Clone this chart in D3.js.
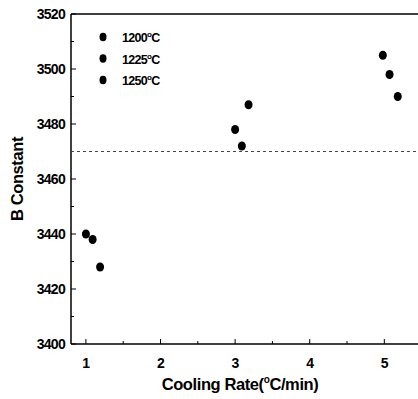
<!DOCTYPE html>
<html>
<head>
<meta charset="utf-8">
<script src="https://cdn.jsdelivr.net/npm/d3@7"></script>
<style>
  body { margin: 0; background: #fff; }
  svg { display: block; font-family: "Liberation Sans", Arial, sans-serif; }
  .tick-label { font-weight: bold; font-size: 14px; letter-spacing: -0.7px; }
  .title { font-weight: bold; font-size: 16.5px; letter-spacing: -0.4px; }
  .legend { font-weight: bold; font-size: 12.5px; letter-spacing: -0.7px; }
</style>
</head>
<body>
<script>
// B constant vs cooling rate, three sintering temperatures
const temps = ['1200', '1225', '1250'];
const rate1200 = [1.0, 3.0, 4.98];
const b1200 = [3440, 3478, 3505];
const rate1225 = [1.09, 3.09, 5.07];
const b1225 = [3438, 3472, 3498];
const rate1250 = [1.19, 3.18, 5.18];
const b1250 = [3428, 3487, 3490];
const refLine = 3470;
const xTicks = [1, 2, 3, 4, 5];
const yTicks = [3400, 3420, 3440, 3460, 3480, 3500, 3520];

const W = 418, H = 399;
const mL = 71, mT = 14, bottom = 344;

const x = d3.scaleLinear().domain([0.8, 5.8]).range([mL, mL + 5 * 74.6]);
const y = d3.scaleLinear().domain([3400, 3520]).range([bottom, mT]);

const svg = d3.select('body').append('svg').attr('width', W).attr('height', H);

const series = [
  { t: temps[0], xs: rate1200, ys: b1200 },
  { t: temps[1], xs: rate1225, ys: b1225 },
  { t: temps[2], xs: rate1250, ys: b1250 },
];

// frame (right side runs off the picture)
svg.append('line').attr('x1', mL).attr('x2', W).attr('y1', mT).attr('y2', mT)
  .attr('stroke', '#000').attr('stroke-width', 1.5);
svg.append('line').attr('x1', mL).attr('x2', W).attr('y1', bottom).attr('y2', bottom)
  .attr('stroke', '#000').attr('stroke-width', 1.5);
svg.append('line').attr('x1', mL).attr('x2', mL).attr('y1', mT).attr('y2', bottom)
  .attr('stroke', '#000').attr('stroke-width', 1.5);

// y ticks (inward)
const yMinor = d3.range(3410, 3520, 20);
svg.selectAll('line.ymaj').data(yTicks).join('line')
  .attr('x1', mL).attr('x2', mL + 5)
  .attr('y1', d => y(d)).attr('y2', d => y(d))
  .attr('stroke', '#000');
svg.selectAll('line.ymin').data(yMinor).join('line')
  .attr('x1', mL).attr('x2', mL + 3)
  .attr('y1', d => y(d)).attr('y2', d => y(d))
  .attr('stroke', '#000');
svg.selectAll('text.ylab').data(yTicks).join('text')
  .attr('class', 'tick-label')
  .attr('x', mL - 6).attr('y', d => y(d) + 5)
  .attr('text-anchor', 'end')
  .text(d => d);

// x ticks (inward)
const xMinor = d3.range(1.5, 5.6, 1);
svg.selectAll('line.xmaj').data(xTicks).join('line')
  .attr('x1', d => x(d)).attr('x2', d => x(d))
  .attr('y1', bottom).attr('y2', bottom - 5)
  .attr('stroke', '#000');
svg.selectAll('line.xmin').data(xMinor).join('line')
  .attr('x1', d => x(d)).attr('x2', d => x(d))
  .attr('y1', bottom).attr('y2', bottom - 3)
  .attr('stroke', '#000');
svg.selectAll('text.xlab').data(xTicks).join('text')
  .attr('class', 'tick-label')
  .attr('x', d => x(d)).attr('y', bottom + 24)
  .attr('text-anchor', 'middle')
  .text(d => d);

// axis titles
svg.append('text').attr('class', 'title')
  .attr('transform', `translate(23,${(mT + bottom) / 2}) rotate(-90)`)
  .attr('text-anchor', 'middle')
  .text('B Constant');
const xt = svg.append('text').attr('class', 'title')
  .attr('x', 240).attr('y', 390).attr('text-anchor', 'middle');
xt.append('tspan').text('Cooling Rate(');
xt.append('tspan').attr('font-size', 10).attr('dy', -7).text('o');
xt.append('tspan').attr('dy', 7).text('C/min)');

// reference line
svg.append('line')
  .attr('x1', mL).attr('x2', W)
  .attr('y1', y(refLine)).attr('y2', y(refLine))
  .attr('stroke', '#444').attr('stroke-width', 1)
  .attr('stroke-dasharray', '3,3');

// points
series.forEach(s => {
  svg.append('g').selectAll('ellipse')
    .data(s.xs.map((v, i) => [v, s.ys[i]]))
    .join('ellipse')
    .attr('cx', d => x(d[0])).attr('cy', d => y(d[1]))
    .attr('rx', 4).attr('ry', 4.6)
    .attr('fill', '#000');
});

// legend
const lg = svg.append('g').selectAll('g').data(series).join('g')
  .attr('transform', (d, i) => `translate(103,${37 + i * 21.5})`);
lg.append('ellipse').attr('rx', 3.5).attr('ry', 4.2).attr('fill', '#000');
const lt = lg.append('text').attr('class', 'legend').attr('x', 19).attr('y', 5);
lt.append('tspan').text(d => d.t);
lt.append('tspan').attr('font-size', 8).attr('dy', -5).text('o');
lt.append('tspan').attr('dy', 5).text('C');
</script>
</body>
</html>
